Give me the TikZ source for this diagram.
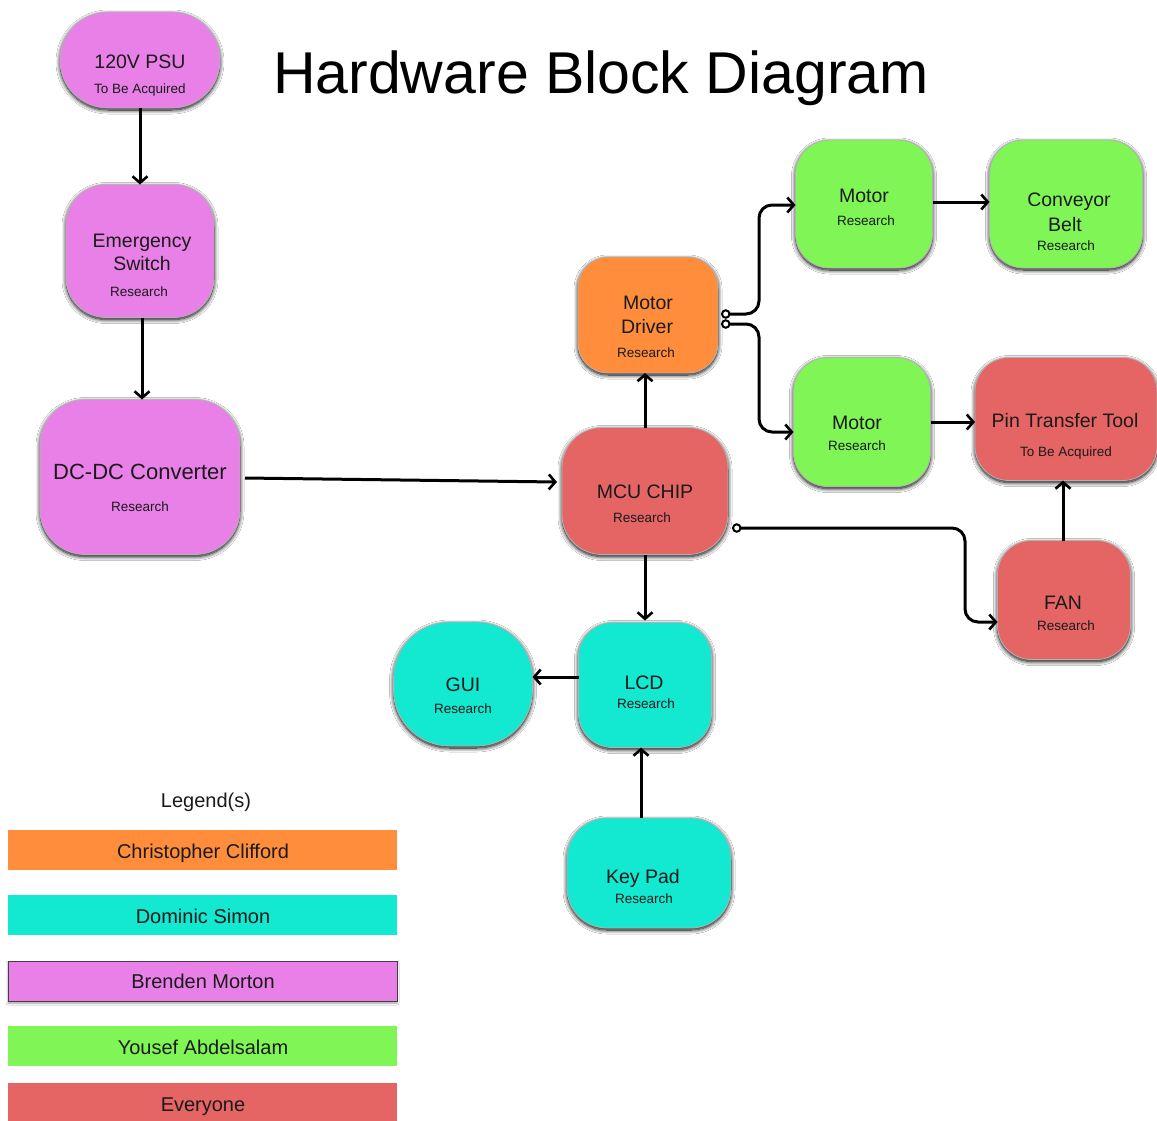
\documentclass[tikz,border=0pt]{standalone}
\usepackage{fontspec}
\setmainfont{Liberation Sans}
\usetikzlibrary{arrows.meta,shadows.blur}

\definecolor{ink}{HTML}{1A1A1A}
\definecolor{cpink}{HTML}{E880E8}
\definecolor{corange}{HTML}{FF8D3B}
\definecolor{ccyan}{HTML}{13E8D0}
\definecolor{cgreen}{HTML}{7FF556}
\definecolor{cred}{HTML}{E56565}

\tikzset{
  blk/.style={draw=black!30, line width=0.8pt, inner sep=0pt, outer sep=0pt, rounded corners=#1,
    blur shadow={shadow blur radius=4pt, shadow xshift=0pt, shadow yshift=-2pt,
      shadow opacity=100, shadow blur steps=10}},
  blk/.default=36pt,
  ttl/.style={font=\fontsize{19.5}{22}\selectfont, text=ink, inner sep=0pt, anchor=base},
  sub/.style={font=\fontsize{13.5}{15}\selectfont, text=ink, inner sep=0pt, anchor=base},
  big/.style={font=\fontsize{22}{25}\selectfont, text=ink, inner sep=0pt, anchor=base},
  conn/.style={draw=black, line width=3pt, rounded corners=13pt,
    -{Straight Barb[length=6.5pt,width=15pt,line width=2.6pt]}},
  tap/.style={conn, {Circle[open,length=9.5pt,width=9.5pt,fill=white,line width=2pt]}-{Straight Barb[length=6.5pt,width=15pt,line width=2.6pt]}},
  bar/.style={draw=none, inner sep=0pt, outer sep=0pt, minimum width=389pt, minimum height=40pt, anchor=north west},
  legtext/.style={font=\fontsize{20}{24}\selectfont, text=ink, inner sep=0pt, anchor=base}
}

\begin{document}
\begin{tikzpicture}[x=1pt, y=-1pt]
\useasboundingbox[fill=white] (0,0) rectangle (1157,1120);

% title
\node[font=\fontsize{59}{66}\selectfont, text=black, inner sep=0pt, anchor=base] (title) at (601,93) {Hardware Block Diagram};

% ---------- power chain ----------
\node[blk=48pt, fill=cpink, minimum width=160pt, minimum height=96pt] (psu) at (140,60) {};
\node[ttl] (psu-t) at (140,68) {120V PSU};
\node[sub] (psu-s) at (140,93) {To Be Acquired};

\node[blk=40pt, fill=cpink, minimum width=148pt, minimum height=133pt] (esw) at (140,251) {};
\node[ttl] (esw-t1) at (142,247) {Emergency};
\node[ttl] (esw-t2) at (142,270) {Switch};
\node[sub] (esw-s) at (139,296) {Research};

\node[blk=45pt, fill=cpink, minimum width=200pt, minimum height=155pt] (dcdc) at (140,477) {};
\node[big] (dcdc-t) at (140,479) {DC-DC Converter};
\node[sub] (dcdc-s) at (140,511) {Research};

% ---------- controller ----------
\node[blk=40pt, fill=cred, minimum width=166pt, minimum height=127pt] (mcu) at (645,491) {};
\node[ttl] (mcu-t) at (645,498) {MCU CHIP};
\node[sub] (mcu-s) at (642,522) {Research};

\node[blk=30pt, fill=corange, minimum width=140pt, minimum height=116pt] (md) at (648,315) {};
\node[ttl] (md-t1) at (648,309) {Motor};
\node[ttl] (md-t2) at (647,333) {Driver};
\node[sub] (md-s) at (646,357) {Research};

% ---------- motors and tools ----------
\node[blk=34pt, fill=cgreen, minimum width=137pt, minimum height=128pt] (m1) at (864,204) {};
\node[ttl] (m1-t) at (864,202) {Motor};
\node[sub] (m1-s) at (866,225) {Research};

\node[blk=34pt, fill=cgreen, minimum width=153pt, minimum height=128pt] (belt) at (1066,204) {};
\node[ttl] (belt-t1) at (1069,206) {Conveyor};
\node[ttl] (belt-t2) at (1065,231) {Belt};
\node[sub] (belt-s) at (1066,250) {Research};

\node[blk=34pt, fill=cgreen, minimum width=137pt, minimum height=129pt] (m2) at (862,422) {};
\node[ttl] (m2-t) at (857,429) {Motor};
\node[sub] (m2-s) at (857,450) {Research};

\node[blk=34pt, fill=cred, minimum width=182pt, minimum height=123pt] (pin) at (1066,419) {};
\node[ttl] (pin-t) at (1065,427) {Pin Transfer Tool};
\node[sub] (pin-s) at (1066,456) {To Be Acquired};

\node[blk=34pt, fill=cred, minimum width=133pt, minimum height=119pt] (fan) at (1064,600) {};
\node[ttl] (fan-t) at (1063,609) {FAN};
\node[sub] (fan-s) at (1066,630) {Research};

% ---------- user interface ----------
\node[blk=34pt, fill=ccyan, minimum width=133pt, minimum height=125pt] (lcd) at (645,685) {};
\node[ttl] (lcd-t) at (644,689) {LCD};
\node[sub] (lcd-s) at (646,708) {Research};

\node[blk=56pt, fill=ccyan, minimum width=139pt, minimum height=124pt] (gui) at (463,684) {};
\node[ttl] (gui-t) at (463,691) {GUI};
\node[sub] (gui-s) at (463,713) {Research};

\node[blk=40pt, fill=ccyan, minimum width=164pt, minimum height=110pt] (key) at (649,873) {};
\node[ttl] (key-t) at (643,883) {Key Pad};
\node[sub] (key-s) at (644,903) {Research};

% ---------- connections (shifts are in page units: +y is up) ----------
\draw[conn] (psu.south) -- (esw.north);
\draw[conn] ([xshift=2pt]esw.south) -- ([xshift=2pt]dcdc.north);
\draw[conn] ([xshift=5pt,yshift=-1pt]dcdc.east) -- ([xshift=-5pt,yshift=9pt]mcu.west);
\draw[conn] (mcu.north) -- (md.south -| mcu.north);
\draw[conn] (mcu.south) -- ([yshift=2pt]lcd.north);
\draw[conn] ([yshift=8pt]lcd.west) -- ([yshift=7pt]gui.east);
\draw[conn] ([xshift=-8pt]key.north) -- ([xshift=-4pt]lcd.south);
\draw[conn] ([xshift=-1pt]fan.north) -- ([xshift=-3pt]pin.south);
\draw[conn] ([yshift=2pt]m1.east) -- ([yshift=2pt]belt.west);
\draw[conn] (m2.east) -- ([yshift=-3pt]pin.west);

% motor driver and controller side outputs
\coordinate (md-o1) at (721,314);
\coordinate (md-o2) at (721,324);
\coordinate (mcu-o) at (732,528);
\draw[tap] (md-o1) -- (759,314) |- ([yshift=-1pt]m1.west);
\draw[tap] (md-o2) -- (759,324) |- ([yshift=-10pt]m2.west);
\draw[tap] (mcu-o) -- (965,528) |- ([yshift=-22pt]fan.west);

% ---------- legend ----------
\node[font=\fontsize{20}{24}\selectfont, text=ink, inner sep=0pt, anchor=base] (leg) at (206,807) {Legend(s)};

\node[bar, fill=corange] (b1) at (8,830) {};
\node[legtext] (b1-t) at (203,858) {Christopher Clifford};
\node[bar, fill=ccyan] (b2) at (8,895) {};
\node[legtext] (b2-t) at (203,923) {Dominic Simon};
\node[bar, fill=cpink, draw=black!75, line width=1pt,
  blur shadow={shadow blur radius=2pt, shadow xshift=0pt, shadow yshift=-2pt, shadow opacity=40}] (b3) at (8,961) {};
\node[legtext] (b3-t) at (203,988) {Brenden Morton};
\node[bar, fill=cgreen] (b4) at (8,1026) {};
\node[legtext] (b4-t) at (203,1054) {Yousef Abdelsalam};
\node[bar, fill=cred] (b5) at (8,1083) {};
\node[legtext] (b5-t) at (203,1111) {Everyone};
\end{tikzpicture}
\end{document}
